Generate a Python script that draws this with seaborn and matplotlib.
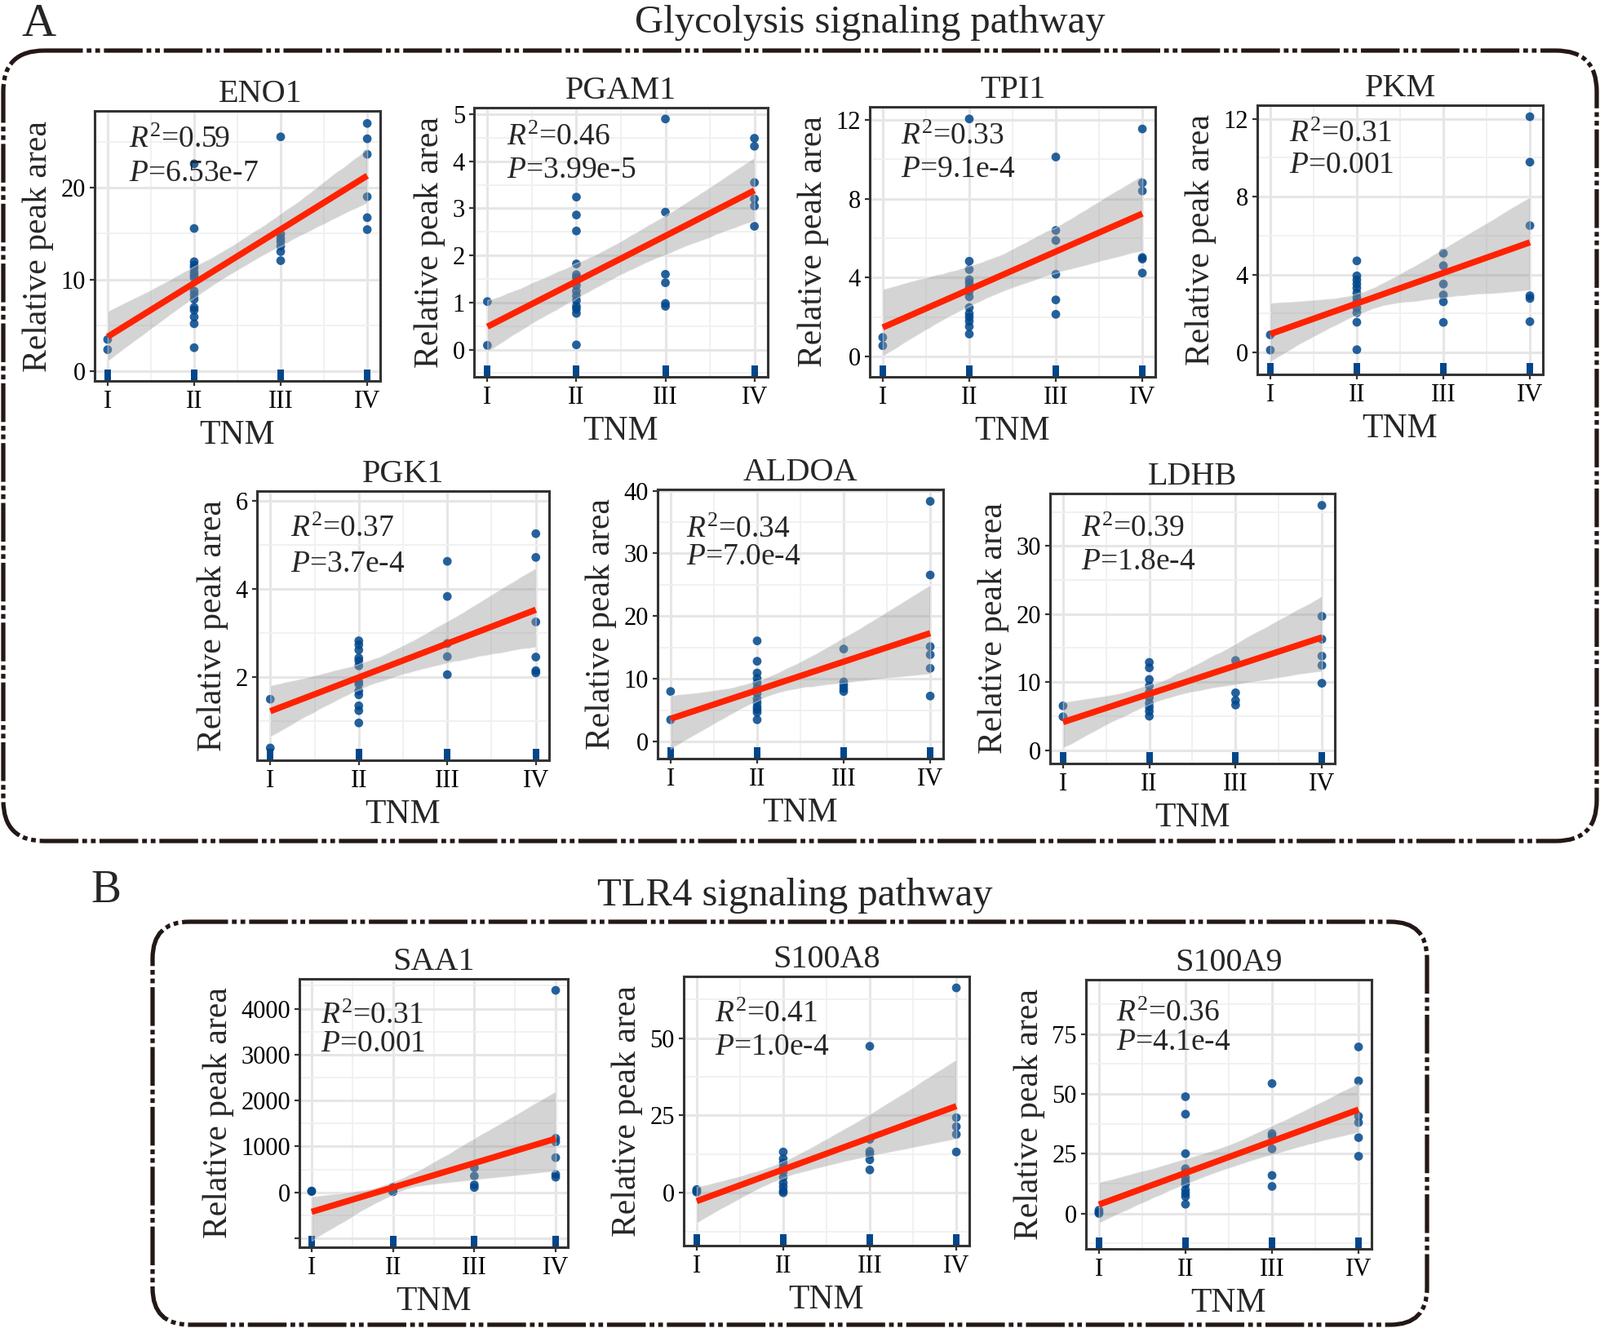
import numpy as np
import pandas as pd
import seaborn as sns
import matplotlib.pyplot as plt
from matplotlib.patches import FancyBboxPatch
from matplotlib.ticker import MultipleLocator, FuncFormatter

# data: relative peak area per TNM stage (I, II, III, IV)
stages = ['I', 'II', 'III', 'IV']

eno1 = [[3.47, 2.37],
        [22.6, 15.56, 11.94, 11.56, 11.26, 10.8, 10.46, 10.2, 8.74, 8.3, 7.85, 6.96, 6.67, 5.93, 5.19, 2.58],
        [25.54, 14.96, 14.5, 14.13, 13.63, 13.04, 12.06],
        [27.0, 25.33, 23.64, 19.02, 16.74, 15.44]]
pgam1 = [[1.02, 0.09],
         [3.24, 2.86, 2.52, 1.82, 1.59, 1.53, 1.45, 1.36, 1.24, 1.14, 1.04, 0.92, 0.86, 0.77, 0.10],
         [4.90, 2.92, 1.60, 1.42, 0.98, 0.92],
         [4.49, 4.32, 3.55, 3.20, 3.05, 2.62]]
tpi1 = [[0.97, 0.55],
        [12.04, 4.83, 4.41, 3.89, 3.72, 3.52, 3.31, 3.03, 2.48, 2.18, 2.0, 1.79, 1.52, 1.14],
        [10.11, 6.39, 5.88, 4.17, 2.87, 2.14],
        [11.53, 8.8, 8.39, 5.02, 4.94, 4.23]]
pkm = [[0.91, 0.13],
       [4.71, 3.94, 3.73, 3.52, 3.31, 3.06, 2.82, 2.61, 2.30, 2.05, 1.56, 0.15],
       [5.10, 4.46, 3.52, 2.96, 2.61, 1.55],
       [12.11, 9.78, 6.52, 2.92, 2.78, 1.59]]
pgk1 = [[1.49, 0.38],
        [2.82, 2.73, 2.61, 2.43, 2.36, 2.25, 1.89, 1.83, 1.68, 1.59, 1.34, 1.23, 0.95],
        [4.63, 3.83, 2.76, 2.46, 2.05],
        [5.26, 4.72, 3.25, 2.45, 2.14, 2.09]]
aldoa = [[7.98, 3.47],
         [16.05, 12.8, 10.93, 10.07, 9.33, 8.55, 7.68, 6.81, 6.16, 5.51, 5.08, 4.64, 3.47],
         [14.75, 9.5, 8.98, 8.46, 7.98],
         [38.3, 26.55, 15.14, 13.84, 11.67, 7.25]]
ldhb = [[6.51, 4.91],
        [12.9, 12.1, 10.39, 9.43, 8.51, 7.71, 6.91, 6.31, 5.71, 4.99],
        [13.18, 8.43, 7.31, 6.63],
        [35.96, 19.66, 16.3, 13.82, 12.46, 9.83]]
saa1 = [[30, 20],
        [107, 36, 20, 45, 60, 75, 90, 30, 55, 15, 80, 25],
        [538, 355, 166, 107],
        [4402, 1178, 1100, 757, 391, 331]]
s100a8 = [[1.05, 0.6, 0.18],
          [13.2, 11.0, 9.6, 8.1, 6.8, 5.0, 3.25, 1.93, 0.62, 0.0],
          [47.4, 17.3, 13.4, 12.5, 10.7, 7.4],
          [66.3, 24.3, 21.4, 18.9, 13.2]]
s100a9 = [[1.37, 0.45, 0.0],
          [48.8, 41.5, 25.0, 18.7, 17.1, 15.0, 13.5, 12.2, 9.9, 8.4, 7.05, 3.87],
          [54.3, 33.4, 32.3, 27.0, 15.9, 11.3],
          [69.6, 55.4, 40.6, 38.0, 31.7, 23.9]]

genes = ['ENO1', 'PGAM1', 'TPI1', 'PKM', 'PGK1', 'ALDOA', 'LDHB', 'SAA1', 'S100A8', 'S100A9']
values = [eno1, pgam1, tpi1, pkm, pgk1, aldoa, ldhb, saa1, s100a8, s100a9]
r2_text = ['0.59', '0.46', '0.33', '0.31', '0.37', '0.34', '0.39', '0.31', '0.41', '0.36']
p_text = ['6.53e-7', '3.99e-5', '9.1e-4', '0.001', '3.7e-4', '7.0e-4', '1.8e-4', '0.001', '1.0e-4', '4.1e-4']
y_step = [10, 1, 4, 4, 2, 10, 10, 1000, 25, 25]
y_lims = [(-1.04, 28.36), (-0.58, 5.14), (-1.03, 12.65), (-1.12, 12.7), (0.10, 6.23),
          (-2.73, 40.2), (-1.96, 37.7), (-1195, 4651), (-17.1, 70.0), (-14.8, 97.7)]

rows = []
for g, vals in zip(genes, values):
    for i, grp in enumerate(vals):
        for v in grp:
            rows.append({'gene': g, 'tnm': i + 1, 'value': v})
df = pd.DataFrame(rows)

# layout (pixel boxes of the panels: left, top, right, bottom) and annotation spots
W, H = 1961, 1628
boxes = {'ENO1': (116, 136, 466, 467), 'PGAM1': (581, 132, 941, 462),
         'TPI1': (1066, 131, 1416, 462), 'PKM': (1541, 129, 1891, 459),
         'PGK1': (315, 602, 673, 932), 'ALDOA': (806, 600, 1156, 930),
         'LDHB': (1287, 605, 1636, 936), 'SAA1': (367, 1200, 696, 1529),
         'S100A8': (838, 1197, 1188, 1527), 'S100A9': (1331, 1201, 1681, 1531)}
ann_pos = {'ENO1': (0.12, 0.135, 0.26), 'PGAM1': (0.11, 0.14, 0.26), 'TPI1': (0.11, 0.14, 0.26),
           'PKM': (0.11, 0.135, 0.25), 'PGK1': (0.115, 0.17, 0.30), 'ALDOA': (0.10, 0.18, 0.28),
           'LDHB': (0.11, 0.16, 0.28), 'SAA1': (0.08, 0.167, 0.27), 'S100A8': (0.11, 0.17, 0.29),
           'S100A9': (0.105, 0.155, 0.26)}
title_shift = {'ENO1': 0.08}

blue = '#00468B'
red = '#FF2200'
edge = '#333333'

sns.set_style("whitegrid")
plt.rcParams['font.family'] = ['Liberation Serif', 'DejaVu Serif']
plt.rcParams['mathtext.fontset'] = 'custom'
plt.rcParams['mathtext.rm'] = 'Liberation Serif'
plt.rcParams['mathtext.it'] = 'Liberation Serif:italic'

fig = plt.figure(figsize=(W / 100, H / 100), dpi=100)
fig.patch.set_facecolor('white')

# background layer for the dash-dot frames and headers
bg = fig.add_axes([0, 0, 1, 1], zorder=-1)
bg.set_xlim(0, W)
bg.set_ylim(H, 0)
bg.axis('off')
frame_ls = (0, (9, 0.9, 1.1, 0.9, 1.1, 0.9))
for (x0, y0, x1, y1, rad) in [(4, 62, 1957, 1031, 50), (187, 1130, 1749, 1624, 45)]:
    bg.add_patch(FancyBboxPatch((x0, y0), x1 - x0, y1 - y0,
                                boxstyle='round,pad=0,rounding_size=%d' % rad,
                                fill=False, ec='#231815', lw=3.8, ls=frame_ls))
bg.text(47, 44, 'A', fontsize=42, ha='center', va='baseline')
bg.text(1066, 40, 'Glycolysis signaling pathway', fontsize=35, ha='center', va='baseline')
bg.text(130, 1106, 'B', fontsize=40, ha='center', va='baseline')
bg.text(974, 1110, 'TLR4 signaling pathway', fontsize=35, ha='center', va='baseline')

for k, g in enumerate(genes):
    x0, y0, x1, y1 = boxes[g]
    ax = fig.add_axes([x0 / W, 1 - y1 / H, (x1 - x0) / W, (y1 - y0) / H])
    d = df[df.gene == g]

    sns.scatterplot(data=d, x='tnm', y='value', color=blue, s=60, alpha=0.85,
                    edgecolor='none', ax=ax, zorder=3)
    # gray confidence band
    sns.regplot(data=d, x='tnm', y='value', scatter=False, ci=95, color='#999999',
                line_kws={'alpha': 0}, ax=ax)
    band = ax.collections[-1]
    band.set_alpha(0.42)
    band.set_zorder(4)
    # red fitted line
    sns.regplot(data=d, x='tnm', y='value', scatter=False, ci=None, color=red,
                line_kws={'lw': 5.5, 'zorder': 5, 'solid_capstyle': 'butt'}, ax=ax)
    sns.rugplot(data=d, x='tnm', height=0.042, color=blue, linewidth=5.5, ax=ax)

    ax.set_xlim(0.85, 4.15)
    ax.set_ylim(*y_lims[k])
    ax.set_xticks([1, 2, 3, 4])
    ax.set_xticklabels(stages)
    ax.xaxis.set_minor_locator(MultipleLocator(0.5))
    ax.yaxis.set_major_locator(MultipleLocator(y_step[k]))
    ax.yaxis.set_minor_locator(MultipleLocator(y_step[k] / 2))
    ax.yaxis.set_major_formatter(FuncFormatter(lambda v, p: '' if v < 0 else '%g' % v))

    ax.set_axisbelow(True)
    ax.grid(which='major', color='#E6E6E6', lw=2.2)
    ax.grid(which='minor', color='#F0F0F0', lw=1.3)
    for s in ax.spines.values():
        s.set_color(edge)
        s.set_linewidth(2.2)
        s.set_visible(True)
    ax.tick_params(which='major', axis='both', length=4, width=1.6, color=edge,
                   labelsize=22, pad=4, left=True, bottom=True, labelcolor='black')
    ax.tick_params(which='minor', length=0)

    ax.set_title(g, fontsize=29, pad=8, x=0.5 + title_shift.get(g, 0))
    ax.set_xlabel('TNM', fontsize=30, labelpad=5)
    ax.set_ylabel('Relative peak area', fontsize=30, labelpad=6)

    ax_x, r_y, p_y = ann_pos[g]
    ax.text(ax_x, 1 - r_y, r'$R^2$=' + r2_text[k], transform=ax.transAxes,
            fontsize=27, va='baseline', zorder=6)
    ax.text(ax_x, 1 - p_y, r'$P$=' + p_text[k], transform=ax.transAxes,
            fontsize=27, va='baseline', zorder=6)

fig.savefig('out.png', dpi=100, facecolor='white')
